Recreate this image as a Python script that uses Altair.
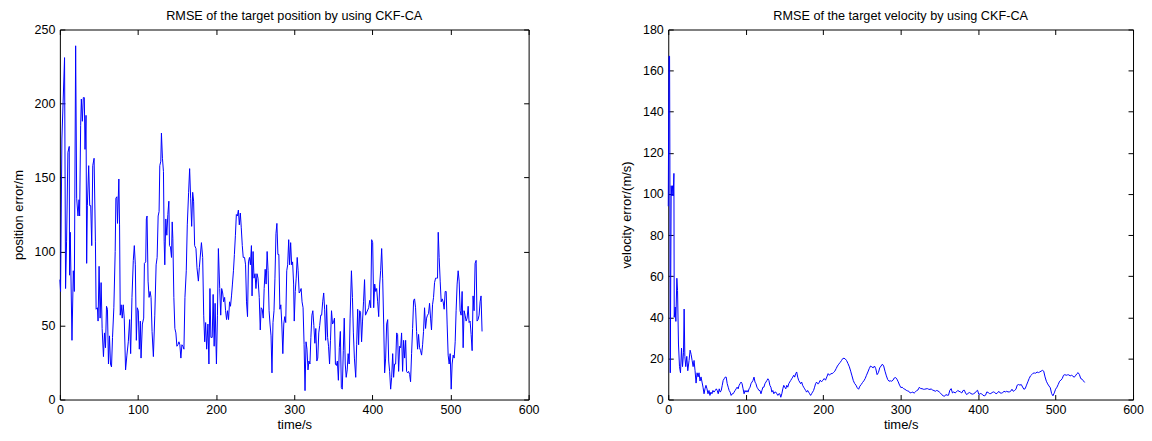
import altair as alt
import pandas as pd

# ---- position RMSE (left panel) ----
pos_t = [0, 0.9, 2.6, 6.0, 7.3, 8.6, 10.3, 12.0, 12.4, 13.3, 15.5, 17.2, 18.5, 20.2, 21.5, 23.2, 24.5, 25.3,
         26.6, 27.5, 28.8, 30.0, 31.3, 32.2, 33.5, 34.3, 35.2, 36.9, 38.2, 39.5, 40.8, 42.1, 43.8, 45.5, 46.4,
         48.1, 48.9, 50.2, 51.5, 52.8, 54.1, 55.8, 57.1, 58.4, 59.7, 60.9, 62.2, 63.5, 64.8, 66.1, 67.4, 69.1,
         70.8, 71.7, 73.0, 73.8, 75.5, 76.4, 77.3, 78.5, 79.8, 81.1, 82.4, 84.1, 85.8, 87.6, 89.3, 90.6, 92.3,
         94.0, 95.3, 96.6, 97.9, 99.1, 100.4, 101.7, 103.0, 103.9, 105.6, 107.3, 108.2, 109.9, 110.7, 111.6,
         112.9, 114.2, 115.5, 116.7, 118.0, 119.7, 121.5, 123.2, 124.5, 125.8, 127.0, 127.9, 129.2, 130.0,
         131.3, 132.6, 133.5, 134.3, 135.6, 136.9, 138.2, 139.5, 140.3, 141.6, 142.9, 143.8, 144.6, 145.9,
         147.2, 148.5, 149.8, 151.1, 152.4, 153.6, 154.9, 156.2, 157.5, 158.8, 160.1, 161.8, 163.1, 164.8,
         166.1, 167.4, 168.7, 170.0, 171.2, 172.5, 174.2, 175.5, 177.3, 178.5,
         181.2, 182.8, 184.1, 185.4, 186.6, 187.9, 189.5, 190.8, 192.1, 193.3, 195.0, 196.2, 197.5, 198.7,
         200.4, 201.7, 202.9, 204.6, 205.9, 207.1, 208.4, 209.6, 210.9, 212.1, 213.4, 214.6, 215.9, 217.2,
         218.4, 219.7, 220.9, 222.2, 223.4, 224.7, 225.9, 227.2, 228.5, 229.7, 231.0, 232.2, 233.5, 234.7,
         236.4, 237.7, 238.9, 240.2, 241.4, 242.7, 243.9, 245.2, 246.0, 247.3, 248.5, 249.8, 251.0, 252.3,
         253.6, 255.2, 256.5, 257.7, 259.0, 260.3, 261.5, 262.8, 264.0, 265.3, 266.5, 267.8, 269.0, 270.3,
         271.5, 272.8, 274.1, 275.3, 276.6, 277.8, 279.1, 280.3, 281.6, 282.8, 284.1, 285.4, 286.6, 287.9,
         289.1, 290.4, 291.6, 292.9, 294.1, 295.4, 296.7, 297.9, 299.2, 300.0, 301.3, 302.5, 303.8, 305.0,
         306.3, 307.5, 308.8, 310.0, 311.3, 312.6, 313.8, 315.1, 316.3, 317.6, 318.8, 320.1, 321.3, 322.6,
         323.8, 325.1, 326.4, 327.6, 328.9, 330.1, 331.4, 332.6, 333.9, 335.1, 336.4, 337.7, 338.9, 340.2,
         341.4, 342.7, 343.9, 345.2, 346.4, 347.7, 349.0, 350.2, 351.5, 352.7, 354.0, 355.2, 356.5, 357.7,
         359.0, 360.3, 361.5, 362.8, 364.0, 365.3, 366.5, 367.8, 369.0, 370.3, 371.5, 373.2, 374.5, 375.7,
         377.0, 378.7, 379.9, 381.2, 382.4, 383.7, 384.9, 386.2, 387.4, 388.7, 390.0, 391.2,
         395.3, 396.6, 397.9, 399.1, 400.4, 401.7, 403.0, 404.3, 405.5, 406.8, 408.1, 409.4, 410.6, 411.9,
         413.2, 414.5, 415.7, 417.0, 418.3, 419.6, 420.9, 422.1, 423.4, 424.7, 426.0, 427.2, 428.5, 429.8,
         431.1, 432.3, 433.6, 434.9, 436.2, 437.4, 438.7, 440.0, 441.3, 442.6, 443.8, 445.1, 446.4, 447.7,
         448.9, 450.2, 451.5, 452.8, 454.0, 455.3, 456.6, 457.9, 459.1, 460.4, 461.7, 463.0, 464.3, 465.5,
         466.8, 468.1, 469.4, 470.6, 471.9, 473.2, 474.5, 475.7, 477.0, 478.3, 479.6, 480.9, 482.1, 483.4,
         484.3, 485.5, 486.8, 488.1, 489.4, 490.6, 491.9, 493.2, 494.5, 495.7, 497.0, 498.3, 499.6, 500.9,
         502.1, 503.4, 504.7, 506.0, 507.2, 508.5, 509.8, 511.1, 512.3, 513.6, 514.9, 516.2, 517.4, 518.7,
         520.0, 521.3, 522.6, 523.8, 525.1, 526.4, 527.7, 528.9, 530.2, 531.5, 532.8, 534.0, 535.3, 536.6,
         537.9, 539.1, 540.4]
pos_v = [81, 73, 176, 231, 75, 107, 167, 171, 84, 113, 40, 87, 73, 239, 136, 124, 135, 124,
         185, 203, 188, 204, 204, 169, 192, 92, 131, 158, 131, 131, 104, 158, 163, 107, 61,
         62, 53, 90, 55, 79, 48, 29, 45, 35, 63, 61, 24, 43, 24, 22, 42, 62,
         100, 136, 137, 119, 149, 118, 57, 64, 55, 64, 55, 20, 30, 39, 54, 31, 69,
         94, 104, 91, 40, 62, 60, 34, 53, 28, 51, 55, 92, 93, 122, 124,
         80, 69, 73, 69, 46, 29, 57, 91, 96, 124, 127, 158, 161, 180,
         163, 154, 107, 91, 122, 111, 125, 134, 104, 103, 96, 120, 109, 69,
         48, 45, 36, 37, 39, 37, 28, 37, 36, 34, 69, 87, 118, 140,
         156, 136, 117, 140, 134, 104, 102, 89, 80, 89,
         106, 96, 57, 39, 52, 34, 51, 24, 75, 42, 42, 71, 36, 65,
         24, 57, 102, 75, 57, 75, 72, 66, 69, 60, 54, 60, 54, 66,
         63, 70, 78, 87, 98, 111, 125, 124, 128, 118, 126, 116, 104, 96,
         96, 91, 66, 56, 93, 96, 91, 104, 70, 100, 82, 85, 75, 85,
         82, 69, 47, 62, 61, 55, 75, 88, 78, 100, 87, 60, 51, 43,
         18, 52, 60, 82, 112, 119, 98, 98, 61, 64, 51, 31, 51, 56,
         52, 87, 91, 108, 91, 106, 91, 93, 78, 53, 73, 82, 96, 87,
         72, 73, 75, 66, 62, 37, 6, 39, 34, 20, 26, 24, 42, 57,
         60, 50, 38, 48, 26, 28, 45, 50, 57, 57, 66, 72, 61, 40,
         64, 42, 36, 24, 40, 60, 51, 52, 55, 24, 23, 26, 13, 35,
         46, 8, 7, 33, 55, 24, 15, 20, 31, 24, 55, 87, 69, 45,
         28, 15, 37, 61, 37, 60, 59, 39, 53, 66, 81, 57,
         62, 67, 62, 108, 106, 62, 78, 73, 75, 66, 56, 78, 87, 102,
         82, 51, 18, 28, 51, 54, 26, 19, 7, 15, 31, 15, 24, 24,
         45, 44, 19, 36, 35, 45, 19, 40, 28, 40, 19, 18, 19, 17,
         12, 31, 48, 67, 68, 62, 46, 34, 44, 35, 33, 30, 37, 46,
         62, 48, 55, 57, 58, 65, 55, 47, 64, 69, 79, 82, 82, 82,
         113, 96, 80, 66, 68, 66, 61, 73, 73, 51, 30, 24, 31, 7,
         24, 30, 28, 39, 60, 78, 87, 80, 60, 57, 73, 35, 60, 57,
         53, 55, 63, 52, 53, 44, 33, 70, 60, 92, 94, 53, 54, 57,
         66, 70, 46]

# ---- velocity RMSE (right panel) ----
vel_t = [0.0, 0.9, 1.7, 2.1, 2.6, 3.8, 4.7, 5.6, 6.4, 7.3, 7.7, 9.0, 9.8, 11.1, 12.0, 13.2, 14.5, 15.8,
         17.1, 18.4, 19.7, 20.5, 21.4, 22.6, 23.9, 25.2, 26.9, 28.2, 29.5, 30.8, 32.1, 33.3, 34.6, 35.9,
         37.2, 38.5, 39.7, 41.0, 42.3, 43.6, 44.9, 46.2, 47.4, 48.7, 50.0, 51.3, 52.6, 53.8, 55.1, 56.4,
         57.7, 59.0, 60.7, 62.0, 63.2, 64.5, 65.8, 67.1, 68.4, 69.7, 70.9, 72.2, 73.5, 74.8, 76.1, 77.4,
         78.6, 79.9, 81.2, 82.5, 83.8, 85.0, 86.3, 87.6, 88.9, 90.2, 91.5, 92.7, 94.0, 95.3, 96.6, 97.9,
         99.1, 100.4, 101.7, 103.0, 104.3, 105.6, 106.8, 108.1, 109.4, 110.7, 112.0, 113.2, 114.5, 115.8,
         117.1, 118.4, 119.7, 120.9, 122.2, 123.5, 124.8, 126.1, 127.4, 128.6, 129.9, 131.2, 132.5, 133.8,
         135.0, 136.3, 137.6, 138.9, 140.2, 141.5, 142.7, 144.0, 145.3, 146.6, 147.9, 149.1, 150.4, 151.7,
         153.0, 154.3, 155.6, 156.8, 158.1, 159.4, 160.7, 162.0, 163.2, 164.5, 165.8, 167.1, 168.4, 169.7,
         170.9, 172.2, 173.5, 174.8, 176.1, 177.4, 178.6, 179.9, 181.2, 182.5, 183.8, 185.0, 186.3, 187.6,
         188.9, 190.2, 191.5, 192.7, 194.0,
         196.2, 197.9, 199.6, 201.3, 203.0, 204.7, 206.4, 208.1, 209.9, 211.6,
         213.3, 215.0, 216.7, 218.4, 220.1, 221.8, 223.5, 225.2, 226.9, 228.6,
         230.3, 232.0, 233.8, 235.5, 237.2, 238.9, 240.6, 242.3, 244.0, 245.7,
         247.4, 249.1, 250.8, 252.5, 254.2, 255.9, 257.7, 259.4, 261.1, 262.8,
         264.5, 266.2, 267.9, 269.6, 271.3, 273.0, 274.7, 276.4, 278.1, 279.8,
         281.6, 283.3, 285.0, 286.7, 288.4, 290.1, 291.8, 293.5, 295.2, 296.9,
         298.6, 300.3, 302.0, 303.7, 305.5, 307.2, 308.9, 310.6, 312.3, 314.0,
         315.7, 317.4, 319.1, 320.8, 322.5, 324.2, 325.9, 327.6, 329.3, 331.1,
         332.8, 334.5, 336.2, 337.9, 339.6, 341.3, 343.0, 344.7, 346.4, 348.1,
         349.8, 351.5, 353.2, 355.0, 356.7, 358.4, 360.1, 361.8, 363.5, 365.2,
         366.9, 368.6, 370.3, 372.0, 373.7, 375.4, 377.1, 378.9, 380.6, 382.3,
         384.0, 385.7, 387.4, 389.1, 390.8, 392.5, 394.2, 395.9, 397.6, 399.3,
         401.0, 402.8, 404.5, 406.2, 407.9, 409.6, 411.3, 413.0, 414.7, 416.4,
         418.1, 419.8, 421.5, 423.2, 425.0, 426.7, 428.4, 430.1, 431.8, 433.5,
         435.2, 436.9, 438.6, 440.3, 442.0, 443.7, 445.4, 447.1, 448.8, 450.5,
         452.3, 454.0, 455.7, 457.4, 459.1, 460.8, 462.5, 464.2, 465.9, 467.6,
         469.3, 471.0, 472.7, 474.4, 476.1, 477.9, 479.6, 481.3, 483.0, 484.7,
         486.4, 488.1, 489.8, 491.5, 493.2, 494.9, 496.6, 498.3, 500.0, 501.8,
         503.5, 505.2, 506.9, 508.6, 510.3, 512.0, 513.7, 515.4, 517.1, 518.8,
         520.5, 522.2, 523.9, 525.6, 527.4, 529.1, 530.8, 532.5, 534.2, 535.9,
         537.6]
vel_v = [94, 167, 167, 119, 13, 104, 99, 104, 99, 110, 40, 45, 38, 59, 53, 27, 16, 13,
         25, 16, 23, 44, 21, 16, 21, 14, 19, 24, 22, 19, 16, 19, 14, 8,
         13, 11, 13, 9, 11, 8.5, 6, 2.8, 5.2, 6.9, 5.2, 2.8, 4.4, 2.0, 3.6, 2.8,
         4.4, 3.6, 4.4, 5.2, 4.4, 2.8, 5.2, 3.6, 4.4, 6.9, 9.3, 10.1, 10.9, 10.9, 7.7, 6.0,
         4.4, 3.6, 2.0, 2.8, 2.8, 3.6, 4.4, 5.2, 6.0, 5.2, 6.9, 7.7, 8.5, 7.7, 5.2, 2.8,
         4.4, 3.6, 4.4, 3.6, 5.2, 6.0, 7.7, 8.5, 9.3, 10.9, 8.5, 7.7, 6.0, 5.2,
         4.4, 4.4, 2.8, 4.4, 6.0, 6.0, 7.7, 8.5, 9.3, 10.1, 9.3, 6.9, 6.0, 3.6,
         4.4, 2.8, 3.6, 3.6, 2.8, 2.0, 2.8, 2.8, 1.1, 2.8, 5.2, 6.9, 6.0, 5.2,
         6.9, 6.0, 7.7, 8.5, 9.3, 10.1, 10.9, 11.8, 10.9, 12.6, 13.4, 10.9, 9.3, 8.5,
         7.7, 8.5, 6.9, 6.0, 5.2, 4.4, 3.6, 4.4, 3.6, 2.8, 2.0, 2.8, 3.6, 4.4,
         6.0, 7.7, 8.5, 7.7, 7.7,
         9.4, 8.6, 9.4, 10.2, 9.4, 11.0, 12.6, 11.8, 12.6, 12.6,
         13.1, 13.8, 15.0, 16.3, 17.2, 18.0, 18.9, 19.9, 20.1, 19.7,
         18.9, 17.5, 15.9, 13.8, 11.5, 9.2, 7.8, 7.0, 5.7, 5.0,
         6.5, 7.3, 8.3, 9.1, 10.2, 11.8, 13.4, 15.0, 16.3, 15.9,
         15.4, 16.3, 15.0, 12.1, 13.1, 15.4, 16.3, 17.2, 16.3, 13.8,
         11.5, 9.7, 8.9, 9.1, 8.9, 9.4, 10.5, 10.7, 9.9, 8.6,
         7.0, 5.8, 6.0, 5.3, 5.0, 4.5, 4.2, 4.0, 3.2, 3.4,
         3.6, 3.1, 3.7, 4.4, 4.7, 6.0, 5.3, 5.3, 5.0, 5.0,
         5.2, 5.3, 5.0, 4.9, 5.2, 4.5, 4.4, 4.0, 4.4, 4.2,
         3.7, 3.1, 2.3, 1.8, 1.6, 2.4, 2.1, 2.1, 4.5, 5.3,
         3.2, 3.7, 3.2, 3.7, 4.4, 4.0, 3.7, 3.2, 4.4, 4.5,
         2.9, 2.4, 3.2, 3.4, 2.9, 2.6, 2.8, 3.2, 4.0, 4.5,
         2.4, 2.9, 2.8, 2.1, 1.8, 2.1, 3.7, 3.4, 2.9, 2.9,
         3.4, 3.7, 3.4, 2.8, 3.2, 4.0, 3.2, 3.1, 3.4, 4.0,
         3.7, 4.0, 3.7, 3.7, 4.0, 5.0, 4.0, 4.4, 5.0, 7.0,
         7.3, 7.0, 7.3, 6.1, 5.0, 5.3, 7.0, 8.6, 10.2, 11.5,
         12.1, 12.8, 12.9, 12.8, 13.4, 13.1, 13.4, 13.8, 14.2, 13.8,
         11.0, 8.9, 7.6, 6.6, 5.7, 2.9, 1.8, 3.2, 5.0, 6.0,
         7.4, 8.9, 9.4, 10.2, 11.8, 12.1, 11.8, 12.0, 12.0, 11.5,
         11.8, 11.5, 10.8, 11.5, 12.5, 13.1, 12.1, 10.2, 9.9, 9.1,
         8.3]

x_ticks = [0, 100, 200, 300, 400, 500, 600]
pos_ticks = [0, 50, 100, 150, 200, 250]
vel_ticks = [0, 20, 40, 60, 80, 100, 120, 140, 160, 180]

FONT = "Liberation Sans"

pos_df = pd.DataFrame({"t": pos_t, "v": pos_v})
vel_df = pd.DataFrame({"t": vel_t, "v": vel_v})


def panel(df, title, ytitle, ymax, yticks, w, h):
    xs = alt.Scale(domain=[0, 600], nice=False, zero=False)
    ys = alt.Scale(domain=[0, ymax], nice=False)
    common = dict(tickSize=5, offset=-5, domain=False, grid=False, tickColor="black",
                  tickWidth=1, labelFont=FONT, labelFontSize=12.5, labelColor="black",
                  labelFlush=False, labelOverlap=False,
                  titleFont=FONT, titleFontSize=13, titleFontWeight="normal", titleColor="black")
    main = alt.Chart(df).mark_line(color="#0000ff", strokeWidth=1).encode(
        x=alt.X("t:Q", scale=xs,
                axis=alt.Axis(orient="bottom", values=x_ticks, labelPadding=4,
                              title="time/s", titlePadding=3, **common)),
        y=alt.Y("v:Q", scale=ys,
                axis=alt.Axis(orient="left", values=yticks, labelPadding=5,
                              title=ytitle, titlePadding=9, **common)),
    )
    ghost = alt.Chart(df).mark_line(opacity=0).encode(
        x=alt.X("t:Q", scale=xs,
                axis=alt.Axis(orient="top", values=x_ticks, labels=False, title="",
                              minExtent=0, maxExtent=0, **common)),
        y=alt.Y("v:Q", scale=ys,
                axis=alt.Axis(orient="right", values=yticks, labels=False, title="",
                              minExtent=0, maxExtent=0, **common)),
    )
    return alt.layer(main, ghost).resolve_axis(x="independent", y="independent").properties(
        width=w, height=h,
        title=alt.TitleParams(title, font=FONT, fontSize=12.7, fontWeight="normal",
                              color="black", anchor="middle", offset=1),
    )


left = panel(pos_df, "RMSE of the target position by using CKF-CA", "position error/m",
             250, pos_ticks, 470, 371)
right = panel(vel_df, "RMSE of the target velocity by using CKF-CA", "velocity error/(m/s)",
              180, vel_ticks, 466, 371)

chart = alt.hconcat(left, right, spacing=80).properties(
    padding={"left": 3, "top": 0, "right": 0, "bottom": -2}
).configure_view(stroke="black", strokeWidth=1)

chart.save("out.html", embed_options={"renderer": "svg", "actions": False})
